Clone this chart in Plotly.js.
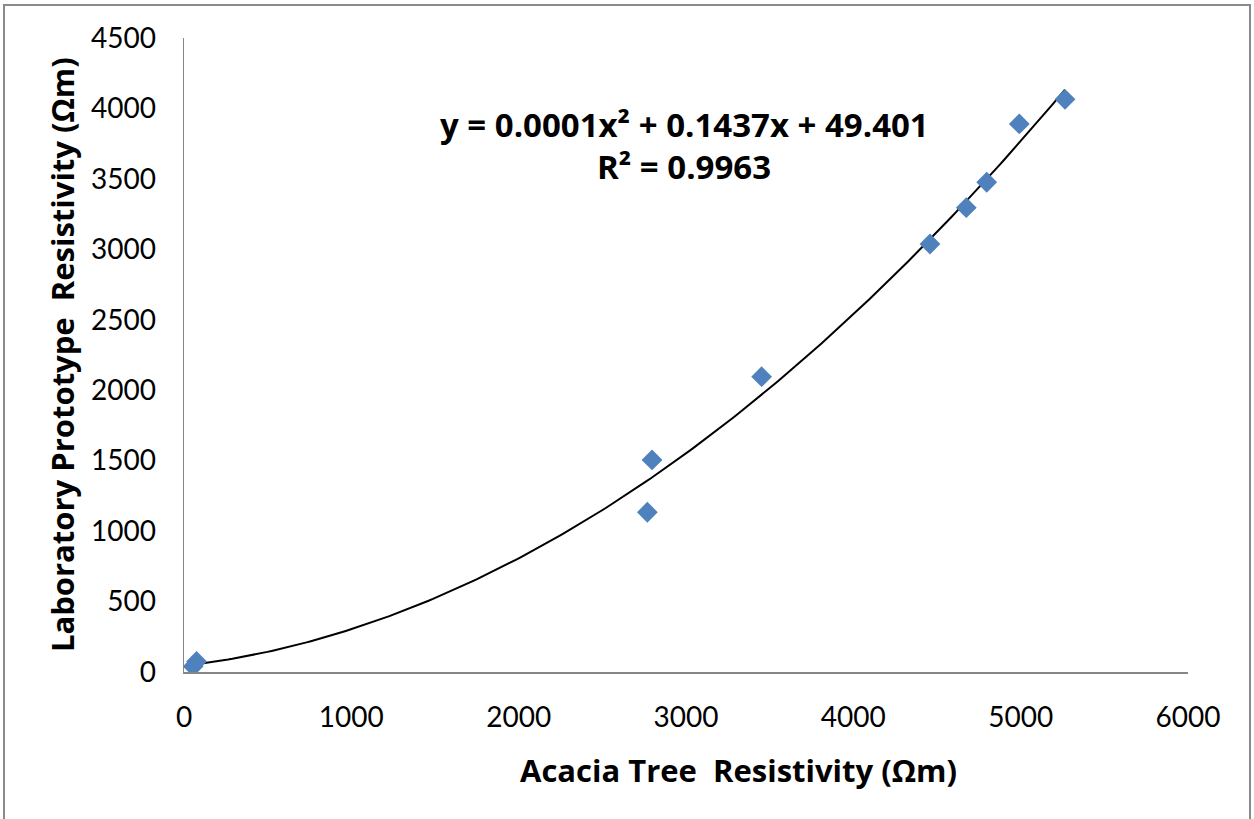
<!DOCTYPE html>
<html>
<head>
<meta charset="utf-8">
<script src="https://cdn.plot.ly/plotly-3.0.1.min.js"></script>
<style>html,body{margin:0;padding:0;background:#fff;}#chart{width:1254px;height:819px;}</style>
</head>
<body>
<div id="chart"></div>
<script>
// Data
const acaciaResistivity = [55, 75, 2769, 2797, 3452, 4458, 4675, 4797, 4992, 5265];
const labResistivity    = [40, 75, 1134, 1505, 2096, 3038, 3296, 3476, 3890, 4065];
const xTickValues = [0, 1000, 2000, 3000, 4000, 5000, 6000];
const yTickValues = [0, 500, 1000, 1500, 2000, 2500, 3000, 3500, 4000, 4500];
const xTitle = "Acacia Tree\u00a0 Resistivity (Ωm)";
const yTitle = "Laboratory Prototype\u00a0 Resistivity (Ωm)";
const equationText = "y = 0.0001x² + 0.1437x + 49.401";
const r2Text = "R² = 0.9963";

// Least-squares quadratic fit (the trendline) computed from the data
function quadFit(xs, ys) {
  let S = [0,0,0,0,0], T = [0,0,0];
  for (let i = 0; i < xs.length; i++) {
    let p = 1;
    for (let k = 0; k < 5; k++) { S[k] += p; if (k < 3) T[k] += p * ys[i]; p *= xs[i]; }
  }
  const A = [[S[0],S[1],S[2],T[0]],[S[1],S[2],S[3],T[1]],[S[2],S[3],S[4],T[2]]];
  for (let c = 0; c < 3; c++) {
    for (let r = c + 1; r < 3; r++) {
      const f = A[r][c] / A[c][c];
      for (let k = c; k < 4; k++) A[r][k] -= f * A[c][k];
    }
  }
  const sol = [0,0,0];
  for (let r = 2; r >= 0; r--) {
    let s = A[r][3];
    for (let k = r + 1; k < 3; k++) s -= A[r][k] * sol[k];
    sol[r] = s / A[r][r];
  }
  return sol; // c0, c1, c2
}
const coef = quadFit(acaciaResistivity, labResistivity);
const xmin = Math.min(...acaciaResistivity), xmax = Math.max(...acaciaResistivity);
const fitX = [], fitY = [];
for (let i = 0; i <= 200; i++) {
  const x = xmin + (xmax - xmin) * i / 200;
  fitX.push(x);
  fitY.push(coef[0] + coef[1] * x + coef[2] * x * x);
}

const FONT = "Lato, 'Open Sans', sans-serif";
const BFONT = "'Open Sans', Lato, sans-serif";
const traces = [
  {
    x: fitX, y: fitY, type: 'scatter', mode: 'lines',
    line: {color: '#000000', width: 2}, hoverinfo: 'skip', showlegend: false
  },
  {
    x: acaciaResistivity, y: labResistivity, type: 'scatter', mode: 'markers',
    marker: {symbol: 'diamond', size: 16, color: '#4F81BD'}, showlegend: false
  }
];

const L = 184, R = 66, T = 38, B = 147, W = 1254, H = 819;
const pw = W - L - R, ph = H - T - B;
function px2paperX(p) { return (p - L) / pw; }
function px2paperY(p) { return (H - B - p) / ph; }

const layout = {
  width: W, height: H,
  margin: {l: L, r: R, t: T, b: B, pad: 0},
  paper_bgcolor: '#ffffff', plot_bgcolor: '#ffffff',
  font: {family: FONT, color: '#000000', size: 28},
  showlegend: false,
  xaxis: {
    range: [0, 6000], tickvals: xTickValues, ticktext: xTickValues.map(String),
    showgrid: false, zeroline: false, showline: true, linecolor: '#868686', linewidth: 1.5,
    ticks: '', ticklabelstandoff: 20, tickfont: {family: FONT, size: 28, color: '#000'}
  },
  yaxis: {
    range: [0, 4500], tickvals: yTickValues, ticktext: yTickValues.map(String),
    showgrid: false, zeroline: false, showline: true, linecolor: '#868686', linewidth: 1.5,
    ticks: '', ticklabelstandoff: 21, tickfont: {family: FONT, size: 28, color: '#000'}
  },
  annotations: [
    {xref: 'paper', yref: 'paper', x: px2paperX(738), y: px2paperY(770), xanchor: 'center', yanchor: 'middle',
     text: '<b>' + xTitle + '</b>', showarrow: false, font: {family: BFONT, size: 31, color: '#000'}},
    {xref: 'paper', yref: 'paper', x: px2paperX(62), y: px2paperY(355), xanchor: 'center', yanchor: 'middle',
     textangle: -90, text: '<b>' + yTitle + '</b>', showarrow: false, font: {family: BFONT, size: 31, color: '#000'}},
    {xref: 'paper', yref: 'paper', x: px2paperX(684), y: px2paperY(124), xanchor: 'center', yanchor: 'middle',
     text: '<b>' + equationText + '</b>', showarrow: false, font: {family: BFONT, size: 33, color: '#000'}},
    {xref: 'paper', yref: 'paper', x: px2paperX(684), y: px2paperY(167), xanchor: 'center', yanchor: 'middle',
     text: '<b>' + r2Text + '</b>', showarrow: false, font: {family: BFONT, size: 33, color: '#000'}}
  ],
  shapes: [
    {type: 'rect', xref: 'paper', yref: 'paper', layer: 'below',
     x0: px2paperX(4), x1: px2paperX(1250), y0: px2paperY(840), y1: px2paperY(5),
     line: {color: '#8a8a8a', width: 2}, fillcolor: 'rgba(0,0,0,0)'}
  ]
};

Plotly.newPlot('chart', traces, layout, {displayModeBar: false, staticPlot: true});
</script>
</body>
</html>
